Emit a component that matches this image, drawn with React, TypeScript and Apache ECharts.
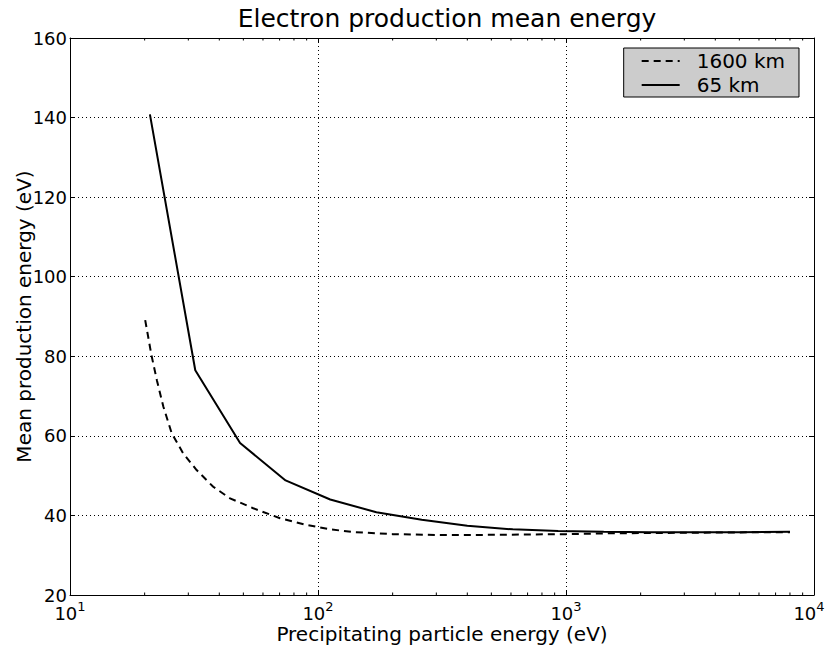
import React, { useEffect, useRef } from "react";
import * as echarts from "echarts";

const solidEnergy = [21, 32, 48.5, 74, 112, 172, 262, 400, 610, 930, 1420, 2160, 3300, 5000, 8000];
const solidMean = [140.8, 76.5, 58.2, 48.8, 44.0, 40.8, 38.9, 37.4, 36.5, 36.1, 35.9, 35.8, 35.8, 35.8, 35.9];

const dashedEnergy = [20.1, 21.3, 22.4, 23.8, 25.7, 28.6, 32.4, 37.8, 44.2, 54.8, 70.3, 90, 112, 140, 200, 300, 450, 700, 1000, 1500, 2500, 4000, 8000];
const dashedMean = [89.1, 80.3, 74.0, 67.3, 60.7, 55.6, 51.4, 47.2, 44.3, 41.8, 39.3, 37.6, 36.5, 35.8, 35.3, 35.1, 35.1, 35.2, 35.3, 35.5, 35.6, 35.7, 35.8];

const minorTickValues = [20, 30, 40, 50, 60, 70, 80, 90, 200, 300, 400, 500, 600, 700, 800, 900, 2000, 3000, 4000, 5000, 6000, 7000, 8000, 9000];

const yTicks = [20, 40, 60, 80, 100, 120, 140, 160];

const FONT = "DejaVu Sans";

export default function App() {
  const ref = useRef<HTMLDivElement>(null);
  useEffect(() => {
    const chart = echarts.init(ref.current!, null, { renderer: "svg" });
    const expOf = (v: number) => Math.round(Math.log10(v));
    const option: any = {
      animation: false,
      backgroundColor: "#ffffff",
      textStyle: { fontFamily: FONT, color: "#000" },
      title: {
        text: "Electron production mean energy",
        left: 442,
        top: 1,
        textAlign: "center",
        textStyle: { fontFamily: FONT, fontSize: 25, fontWeight: "normal", color: "#000" },
      },
      legend: {
        data: ["1600 km", "65 km"],
        orient: "vertical",
        right: 27,
        top: 48,
        backgroundColor: "#cccccc",
        borderColor: "#000",
        borderWidth: 1,
        borderRadius: 0,
        padding: [3, 14, 2, 17],
        itemWidth: 38,
        itemHeight: 20,
        itemGap: 4,
        itemStyle: { opacity: 0 },
        textStyle: { fontFamily: FONT, fontSize: 20, color: "#000", padding: [0, 0, 0, 12] },
      },
      grid: { left: 70, right: 12, top: 38, bottom: 56, containLabel: false, outerBoundsMode: "none" },
      xAxis: [
        {
          type: "log",
          logBase: 10,
          min: 10,
          max: 10000,
          name: "Precipitating particle energy (eV)",
          nameLocation: "middle",
          nameGap: 29,
          nameMoveOverlap: false,
          nameTextStyle: { fontFamily: FONT, fontSize: 20, color: "#000" },
          axisLine: { lineStyle: { color: "#000", width: 1 } },
          axisTick: { inside: true, length: 5, lineStyle: { color: "#000" } },
          axisLabel: {
            margin: 5,
            formatter: (v: number) => {
              const k = expOf(v);
              return k >= 4 ? "{b|10}{sl|" + k + "}" : "{b|10}{s|" + k + "}";
            },
            rich: {
              b: { fontFamily: FONT, fontSize: 18, color: "#000", verticalAlign: "bottom", lineHeight: 22 },
              s: { fontFamily: FONT, fontSize: 13, color: "#000", verticalAlign: "top", lineHeight: 22, padding: [0, 0, 10, 0] },
              sl: { fontFamily: FONT, fontSize: 13, color: "#000", verticalAlign: "top", lineHeight: 22, padding: [0, 10, 10, 0] },
            },
          },
          splitLine: { show: true, lineStyle: { color: "#000", type: [1, 3], width: 1 } },
          minorTick: { show: false },
        },
        {
          type: "log",
          logBase: 10,
          min: 10,
          max: 10000,
          position: "top",
          axisLine: { lineStyle: { color: "#000", width: 1 } },
          axisTick: { inside: true, length: 5, lineStyle: { color: "#000" } },
          axisLabel: { show: false },
          splitLine: { show: false },
        },
      ],
      yAxis: [
        {
          type: "value",
          min: 20,
          max: 160,
          interval: 20,
          name: "Mean production energy (eV)",
          nameLocation: "middle",
          nameGap: 36,
          nameMoveOverlap: false,
          nameTextStyle: { fontFamily: FONT, fontSize: 20, color: "#000" },
          axisLine: { show: true, lineStyle: { color: "#000", width: 1 } },
          axisTick: { show: true, inside: true, length: 5, lineStyle: { color: "#000" } },
          axisLabel: {
            margin: 3,
            fontFamily: FONT,
            fontSize: 18,
            color: "#000",
            formatter: (v: number) => (yTicks.includes(v) ? String(v) : ""),
          },
          splitLine: { show: true, lineStyle: { color: "#000", type: [1, 3], width: 1 } },
        },
        {
          type: "value",
          min: 20,
          max: 160,
          interval: 20,
          position: "right",
          axisLine: { show: true, lineStyle: { color: "#000", width: 1 } },
          axisTick: { show: true, inside: true, length: 5, lineStyle: { color: "#000" } },
          axisLabel: { show: false },
          splitLine: { show: false },
        },
      ],
      series: [
        {
          name: "1600 km",
          type: "line",
          xAxisIndex: 0,
          yAxisIndex: 0,
          symbol: "none",
          data: dashedEnergy.map((e, i) => [e, dashedMean[i]]),
          lineStyle: { color: "#000", width: 2, type: [7, 5] },
          itemStyle: { color: "#000" },
          z: 3,
        },
        {
          name: "65 km",
          type: "line",
          xAxisIndex: 0,
          yAxisIndex: 0,
          symbol: "none",
          data: solidEnergy.map((e, i) => [e, solidMean[i]]),
          lineStyle: { color: "#000", width: 2, type: "solid" },
          itemStyle: { color: "#000" },
          z: 4,
        },
        {
          name: "minorTicks",
          type: "custom",
          xAxisIndex: 0,
          yAxisIndex: 0,
          silent: true,
          clip: false,
          data: minorTickValues.map((v) => [v, 20]),
          renderItem: (params: any, api: any) => {
            const v = api.value(0);
            const b = api.coord([v, 20]);
            const t = api.coord([v, 160]);
            const style = { stroke: "#000", lineWidth: 1 };
            return {
              type: "group",
              children: [
                { type: "line", shape: { x1: b[0], y1: b[1], x2: b[0], y2: b[1] - 2.5 }, style },
                { type: "line", shape: { x1: t[0], y1: t[1], x2: t[0], y2: t[1] + 2.5 }, style },
              ],
            };
          },
          z: 5,
        },
      ],
    };
    chart.setOption(option);
    return () => chart.dispose();
  }, []);
  return (
    <div
      ref={ref}
      style={{ position: "fixed", left: 0, top: 0, width: 826, height: 651, background: "#fff" }}
    />
  );
}
